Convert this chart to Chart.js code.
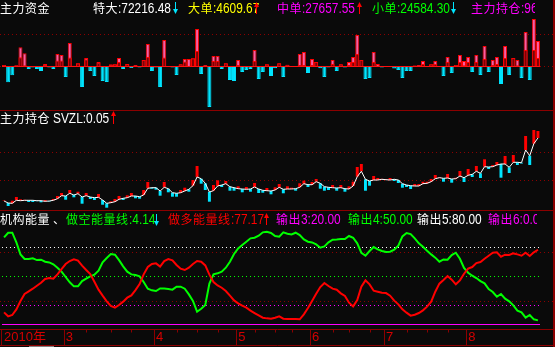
<!DOCTYPE html>
<html>
<head>
<meta charset="utf-8">
<script src="https://cdn.jsdelivr.net/npm/chart.js@4.4.0/dist/chart.umd.min.js"></script>
<style>
    html, body { margin: 0; padding: 0; background: #0a0a0a; }
    #wrap { position: relative; width: 555px; height: 347px; overflow: hidden; background: #0a0a0a; }
    canvas { position: absolute; left: 0; display: block; }
    .t { position: absolute; font-family: 'Noto Sans CJK SC', sans-serif; font-size: 12px; letter-spacing: 0.5px; line-height: 14px; white-space: nowrap; }
    .n { display: inline-block; font-family: 'Liberation Sans', sans-serif; font-size: 14px; letter-spacing: 0; transform: scaleX(0.85); transform-origin: left; }
    .arr { position: absolute; }
    .clip { overflow: hidden; }
    .bar { position: absolute; background: #8c0000; }
    .w { color: #ffffff; } .y { color: #ffff00; } .m { color: #ff00ff; }
    .g { color: #00ff00; } .r { color: #ff0000; } .c { color: #00e5ff; }
</style>
</head>
<body>
<div id="wrap">
    <canvas id="fundChart" width="555" height="110" style="top:0"></canvas>
    <canvas id="holdChart" width="555" height="99" style="top:111px"></canvas>
    <canvas id="energyChart" width="555" height="136" style="top:211px"></canvas>

    <div class="bar" style="left:0;top:110px;width:555px;height:1px"></div>
    <div class="bar" style="left:0;top:210px;width:555px;height:1px"></div>
    <div class="bar" style="left:553px;top:0;width:2px;height:347px"></div>
    <div style="position:absolute;left:29px;top:346px;width:25px;height:1px;background:#808080"></div>

    <!-- 主力资金 -->
    <div class="t w" style="left:0;top:1px">主力资金</div>
    <div class="t w" style="left:93px;top:1px">特大<span class="n">:72216.48</span></div>
    <svg class="arr" style="left:173px;top:2px" width="5" height="12"><path d="M2.5 0V11" stroke="#00e5ff"/><path d="M0 7L2.5 12L5 7Z" fill="#00e5ff"/></svg>
    <div class="t y" style="left:188px;top:1px">大单<span class="n">:4609.67</span></div>
    <svg class="arr" style="left:254px;top:2px" width="5" height="12"><path d="M2.5 1V12" stroke="#ff0000"/><path d="M0 5L2.5 0L5 5Z" fill="#ff0000"/></svg>
    <div class="t m" style="left:277px;top:1px">中单<span class="n">:27657.55</span></div>
    <svg class="arr" style="left:357px;top:2px" width="5" height="12"><path d="M2.5 1V12" stroke="#ff0000"/><path d="M0 5L2.5 0L5 5Z" fill="#ff0000"/></svg>
    <div class="t g" style="left:372px;top:1px">小单<span class="n">:24584.30</span></div>
    <svg class="arr" style="left:451px;top:2px" width="5" height="12"><path d="M2.5 0V11" stroke="#00e5ff"/><path d="M0 7L2.5 12L5 7Z" fill="#00e5ff"/></svg>
    <div class="t m clip" style="left:471px;top:1px;width:64px">主力持仓<span class="n">:96</span></div>

    <!-- 主力持仓 -->
    <div class="t w" style="left:0;top:111px">主力持仓</div>
    <div class="t w" style="left:53px;top:111px"><span class="n">SVZL:0.05</span></div>
    <svg class="arr" style="left:111px;top:111px" width="5" height="13"><path d="M2.5 1V13" stroke="#ff0000"/><path d="M0 5L2.5 0L5 5Z" fill="#ff0000"/></svg>

    <!-- 机构能量 -->
    <div class="t w" style="left:0;top:212px">机构能量</div>
    <div class="t w" style="left:53px;top:212px">、</div>
    <div class="t g" style="left:66px;top:212px">做空能量线<span class="n">:4.14</span></div>
    <svg class="arr" style="left:154px;top:214px" width="5" height="12"><path d="M2.5 0V11" stroke="#00e5ff"/><path d="M0 7L2.5 12L5 7Z" fill="#00e5ff"/></svg>
    <div class="t r" style="left:168px;top:212px">做多能量线<span class="n">:77.17</span></div>
    <svg class="arr" style="left:264px;top:213px" width="5" height="12"><path d="M2.5 1V12" stroke="#ff0000"/><path d="M0 5L2.5 0L5 5Z" fill="#ff0000"/></svg>
    <div class="t m" style="left:276px;top:212px">输出<span class="n">3:20.00</span></div>
    <div class="t g" style="left:348px;top:212px">输出<span class="n">4:50.00</span></div>
    <div class="t w" style="left:417px;top:212px">输出<span class="n">5:80.00</span></div>
    <div class="t m clip" style="left:488px;top:212px;width:49px">输出<span class="n">6:0.00</span></div>
</div>

<script>
// Trading days, grouped by month
const monthLabels = ['2010年', '3', '4', '5', '6', '7', '8'];
const monthDays = [15, 22, 20, 18, 18, 20, 18];
const weekTicks = [20, 26, 31, 42, 47, 52, 61, 66, 70, 80, 84, 89, 98, 103, 108];

// 主力资金: main fund flow (pink up / cyan down) and the dark red super-large part
const fundMain = [
    1.3, -16, -9, 1, 19, 13, -2.7, -1.3, -2.7, -4.7,
    2.3, -1.3, -2.7, 12.3, 11.3, -10.7, 23.3, 0.5, 3, -20.7,
    8.3, -4.7, -9.7, 4.3, -14.7, -15.7, 2, 2, 8.3, -2.7,
    2.3, -1.7, 1.3, -1.3, 6.3, 22.3, -4.7, -1.3, -20.7, 26.3,
    0, -1.3, -8.7, 2, 7.3, 7.3, 8, 37.3, -7.7, 1.3,
    -40.7, 10.3, 10.3, -2.7, 3, -13.7, -14.7, 6.3, -5.7, -3.7,
    -2.7, 16.3, -12.7, -5.7, 2, -9.7,
    -2, 3, -10.7, 1.5, 0, 0, 12.3, 14.3, -6.7, 7.3,
    4.3, -2, -10.7, -1.3, 6.3, -4.7, 2, -1.3, 4.3, 9.3,
    31.3, 6.3, -12.7, -11.7, 14.3, 2.3, -1.3, 0, 0, -2.3,
    -3.7, -11.7, -4.7, -4.7, 0.7, 1.3, 5.3, 0, 2, 5.3,
    0, -9.7, 9.3, -6.7, 1.3, 11.3, 5.3, 9.3, -5.7, 11.3,
    -8.7, 20.3, -5.7, 6.3, 9.3, -17.7, 20.3, -8.7, 8.3, 6.3,
    -11.7, 34.3, -13.7, 47.3, 25.3
];
const fundSuper = [
    1, 0, 0, 1, 9, 1, 0, 0, 0, 0,
    1.5, 0, 0, 5.7, 5.7, 0, 8.7, 0.5, 3, 0,
    7, 0, 0, 3.7, 0, 0, 1.3, 2, 4.3, 0,
    2.3, 0, 0.7, 0, 6.3, 9.3, 0, 0, 0, 8.7,
    0, 0, 0, 2, 4.7, 0.5, 8, 15.3, 0, 0.5,
    0, 5.3, 5.3, 0, 3, 0, 0, 1.3, 0, 0,
    0, 5.3, 0, 0, 2, 0,
    0, 3, 0, 1.5, 0, 0, 1.3, 1.3, 0, 1.3,
    4.3, 0, 0, 0, 2.3, 0, 2, 0, 1.3, 4.3,
    12.3, 6.3, 0, 0, 4.3, 0.7, 0, 0, 0, 0,
    0, 0, 0, 0, 0.7, 0.5, 2.3, 0, 2, 2.3,
    0, 0, 4.3, 0, 1.3, 4.3, 1, 4.3, 0, 4.3,
    0, 7.3, 0, 1.3, 2.3, 0, 8.3, 0, 8.3, 1,
    0, 16.3, 0, 16.3, 8.3
];
const fundGrid = [0, 32.3];

// 主力持仓: holding line and the end of each day's bar
const holdLine = [
    9.0, 7.0, 6.7, 9.7, 9.3, 9.7, 9.7, 9.7, 9.3, 9.3,
    8.7, 9.0, 9.7, 11.3, 14.3, 14.0, 16.7, 15.0, 16.3, 13.0,
    14.3, 13.0, 12.3, 12.7, 10.0, 6.7, 7.3, 8.3, 10.7, 11.7,
    12.3, 14.0, 14.0, 13.3, 15.0, 21.7, 22.3, 22.3, 19.0, 22.7,
    21.3, 17.3, 16.7, 17.3, 19.0, 20.7, 24.3, 33.0, 31.3, 26.7,
    18.0, 19.3, 24.0, 25.0, 26.3, 23.3, 22.3, 21.3, 21.0, 20.7,
    21.0, 23.0, 21.0, 19.7, 19.3, 19.0,
    20.0, 22.7, 20.7, 21.0, 21.0, 21.3, 22.7, 26.3, 25.3, 25.3,
    28.3, 26.7, 23.3, 22.7, 22.3, 22.0, 22.3, 21.3, 21.0, 24.0,
    33.3, 38.7, 30.7, 29.0, 30.0, 30.0, 30.7, 30.3,
    30.0, 30.7, 30.0, 26.3, 25.0, 24.3, 24.0, 24.0, 26.3, 26.7,
    28.3, 31.3, 32.3, 31.7, 32.0, 31.0, 31.3, 34.0, 32.3, 34.7,
    35.7, 38.7, 36.7, 43.3, 43.0, 43.3, 45.0, 46.0, 46.0, 42.7,
    47.7, 47.7, 47.3, 60.0, 54.3, 66.3, 72.0
];
const holdEnd = [
    9.5, 4.0, 9.3, 13.0, 10.7, 10.2, 8.0, 8.0, 8.8, 7.7,
    10.0, 8.5, 11.0, 14.0, 17.0, 10.3, 20.0, 12.7, 18.3, 6.3,
    17.0, 11.0, 10.0, 16.0, 5.3, 2.3, 8.7, 11.0, 14.0, 10.0,
    14.7, 17.0, 11.7, 11.3, 20.0, 28.0, 21.3, 20.3, 14.3, 28.0,
    17.7, 13.3, 13.3, 20.0, 22.3, 18.3, 30.0, 44.0, 26.3, 20.0,
    8.3, 25.0, 29.7, 23.0, 29.0, 19.3, 19.3, 23.7, 17.7, 23.0,
    18.3, 27.0, 17.0, 17.3, 22.0, 15.7,
    22.7, 26.0, 16.7, 23.7, 22.3, 19.3, 26.7, 29.3, 23.0, 28.0,
    31.0, 21.3, 19.3, 20.0, 25.0, 19.3, 25.0, 18.3, 23.7, 28.3,
    43.0, 46.0, 19.3, 24.3, 34.0, 32.0, 31.2, 31.0,
    32.0, 29.0, 27.0, 22.3, 23.0, 21.0, 26.0, 26.0, 28.3, 28.3,
    31.0, 35.0, 32.8, 28.3, 36.0, 27.3, 32.3, 39.0, 28.0, 41.0,
    33.0, 44.0, 32.0, 50.7, 41.0, 45.0, 48.0, 32.3, 54.0, 37.0,
    55.0, 45.0, 46.5, 74.0, 45.0, 80.0, 79.0
];
const holdGrid = [29.7, 57.7];

// 机构能量: 做空能量线 (green) and 做多能量线 (red)
const shortEnergy = [
    90.0, 94.8, 94.8, 84.8, 72.4, 67.6, 67.6, 68.3, 66.5, 66.9,
    64.8, 64.1, 62.1, 58.6, 54.5, 49.0, 43.5, 39.3, 39.3, 44.8,
    47.2, 49.7, 51.4, 55.5, 64.1, 68.6, 72.8, 72.1, 66.5, 60.0,
    54.5, 51.7, 51.0, 49.7, 43.8, 36.9, 35.2, 34.5, 37.2, 37.2,
    36.6, 35.9, 39.0, 39.0, 36.9, 31.0, 24.2, 13.1, 16.2, 20.0,
    42.1, 51.7, 52.8, 54.5, 58.6, 64.8, 72.8, 78.6, 82.1, 85.5,
    89.0, 89.6, 91.7, 95.2, 95.8, 94.5, 91.4, 90.7, 95.2, 93.8,
    93.1, 94.8, 92.4, 87.9, 85.5, 84.8, 82.7, 79.3, 80.7, 84.8,
    87.6, 87.9, 88.3, 88.3, 91.4, 89.6, 83.8, 74.1, 71.0, 75.9,
    80.0, 77.6, 75.9, 74.8, 75.2, 77.2, 81.4, 91.0, 94.5, 93.4,
    89.0, 83.8, 80.3, 76.2, 72.4, 69.0, 64.8, 67.2, 66.9, 71.7,
    74.1, 67.9, 58.3, 53.4, 50.3, 47.9, 44.8, 42.4, 36.6, 33.5,
    28.6, 31.4, 26.6, 23.8, 19.7, 14.2, 12.4, 6.9, 9.7, 5.2,
    4.14
];
const longEnergy = [
    12.4, 8.3, 9.7, 15.5, 24.2, 31.4, 34.1, 36.9, 40.0, 43.1,
    46.9, 47.9, 47.2, 51.7, 57.2, 62.4, 65.5, 67.2, 65.9, 60.7,
    56.2, 52.1, 44.1, 35.9, 29.7, 23.8, 19.0, 17.3, 20.0, 23.5,
    27.6, 30.0, 35.5, 41.7, 51.7, 59.3, 62.4, 63.1, 59.7, 65.5,
    67.6, 66.2, 61.4, 57.6, 56.2, 58.6, 62.4, 65.5, 64.8, 61.0,
    51.4, 43.8, 40.3, 37.9, 34.5, 29.7, 24.8, 21.7, 19.3, 17.3,
    14.2, 11.7, 9.3, 6.9, 6.2, 5.9, 6.9, 8.3, 5.9, 5.5,
    5.5, 5.5, 5.2, 10.4, 16.9, 24.2, 31.7, 38.6, 42.8, 39.7,
    36.9, 35.9, 32.1, 29.3, 22.4, 18.6, 25.2, 39.0, 45.5, 41.4,
    34.8, 33.8, 32.8, 32.4, 29.7, 24.5, 20.7, 15.5, 12.1, 9.0,
    10.0, 11.7, 14.5, 18.3, 23.5, 33.8, 42.1, 45.9, 50.0, 46.2,
    41.4, 45.5, 52.4, 57.6, 59.3, 63.4, 64.5, 67.9, 71.0, 74.1,
    74.5, 70.0, 72.1, 71.7, 73.4, 72.4, 71.0, 74.1, 70.7, 74.5,
    77.17
];
// 输出3..输出6 levels
const outputLevels = [20, 50, 80, 0];
const energyGrid = [23.8, 74.5];

// Build the day categories and the month tick labels
const days = [];
const tickText = [];
monthLabels.forEach(function(m, k) {
    for (let d = 0; d < monthDays[k]; d++) {
        days.push(m + '-' + (d + 1));
        tickText.push(d === 0 ? m : '');
    }
});

const DARK = '#8c0000';

// Horizontal level lines, drawn through the y scale
function drawLevels(chart, lines) {
    const ctx = chart.ctx;
    const y = chart.scales.y;
    const area = chart.chartArea;
    lines.forEach(function(l) {
        const py = Math.round(y.getPixelForValue(l.value)) + 0.5;
        ctx.save();
        ctx.strokeStyle = l.color;
        ctx.lineWidth = 1;
        ctx.setLineDash(l.dash || []);
        ctx.beginPath();
        ctx.moveTo(l.full ? 0 : area.left, py);
        ctx.lineTo(l.full ? chart.width - 2 : area.right, py);
        ctx.stroke();
        ctx.restore();
    });
}
const levelPlugin = {
    id: 'levels',
    beforeDatasetsDraw: function(chart, args, opts) { drawLevels(chart, opts.under || []); },
    afterDatasetsDraw: function(chart, args, opts) { drawLevels(chart, opts.over || []); }
};

// Month dividers and week ticks in the date band
const bandPlugin = {
    id: 'band',
    afterDraw: function(chart) {
        const ctx = chart.ctx;
        const x = chart.scales.x;
        const half = (x.getPixelForValue(1) - x.getPixelForValue(0)) / 2;
        const top = Math.round(x.top) + 0.5;
        const bottom = top + 16;
        ctx.save();
        ctx.strokeStyle = DARK;
        ctx.lineWidth = 1;
        ctx.beginPath();
        ctx.moveTo(0, top); ctx.lineTo(chart.width, top);
        ctx.moveTo(0, bottom); ctx.lineTo(chart.width, bottom);
        ctx.moveTo(1.5, top); ctx.lineTo(1.5, bottom);
        tickText.forEach(function(t, i) {
            if (t !== '' && i > 0) {
                const px = Math.round(x.getPixelForValue(i) - half) + 0.5;
                ctx.moveTo(px, top); ctx.lineTo(px, bottom);
            }
        });
        weekTicks.forEach(function(i) {
            const px = Math.round(x.getPixelForValue(i)) + 0.5;
            ctx.moveTo(px, top); ctx.lineTo(px, top + 3);
        });
        ctx.stroke();
        ctx.restore();
    }
};

const baseOptions = {
    responsive: false,
    animation: false,
    devicePixelRatio: 1,
    events: []
};

// Panel 1: 主力资金
new Chart(document.getElementById('fundChart'), {
    type: 'bar',
    data: {
        labels: days,
        datasets: [
            {
                data: fundSuper,
                backgroundColor: '#800000',
                borderColor: '#ff0000',
                borderWidth: 1,
                grouped: false,
                barPercentage: 0.98,
                categoryPercentage: 1
            },
            {
                data: fundMain,
                backgroundColor: function(c) { return c.raw >= 0 ? '#ff5aa0' : '#00e5ff'; },
                borderColor: function(c) { return c.raw >= 0 ? '#ff0000' : '#00e5ff'; },
                borderWidth: 1,
                grouped: false,
                barPercentage: 0.98,
                categoryPercentage: 1
            }
        ]
    },
    options: Object.assign({}, baseOptions, {
        layout: { padding: { left: 2, right: 15, top: 16, bottom: 0 } },
        scales: {
            x: { display: false },
            y: { display: false, min: -43.7, max: 50.3 }
        },
        plugins: {
            legend: { display: false },
            tooltip: { enabled: false },
            levels: {
                under: fundGrid.map(function(v) { return { value: v, color: DARK, dash: [1, 3], full: true }; }),
                over: [{ value: 0, color: '#ff1010' }]
            }
        }
    }),
    plugins: [levelPlugin]
});

// Panel 2: 主力持仓
new Chart(document.getElementById('holdChart'), {
    type: 'bar',
    data: {
        labels: days,
        datasets: [
            {
                type: 'line',
                data: holdLine,
                borderColor: '#ffffff',
                borderWidth: 1,
                pointRadius: 0,
                order: 0
            },
            {
                data: holdLine.map(function(v, i) { return [v, holdEnd[i]]; }),
                backgroundColor: function(c) { return holdEnd[c.dataIndex] >= holdLine[c.dataIndex] ? '#ff0000' : '#00e5ff'; },
                borderWidth: 0,
                barPercentage: 0.72,
                categoryPercentage: 1,
                order: 1
            }
        ]
    },
    options: Object.assign({}, baseOptions, {
        layout: { padding: { left: 2, right: 15, top: 0, bottom: 0 } },
        scales: {
            x: { display: false },
            y: { display: false, min: 0, max: 99 }
        },
        plugins: {
            legend: { display: false },
            tooltip: { enabled: false },
            levels: {
                under: holdGrid.map(function(v) { return { value: v, color: DARK, dash: [1, 3], full: true }; })
            }
        }
    }),
    plugins: [levelPlugin]
});

// Panel 3: 机构能量 with the date band
const levelColors = ['#ff00ff', '#00ff00', '#ffffff', '#ff00ff'];
new Chart(document.getElementById('energyChart'), {
    type: 'line',
    data: {
        labels: days,
        datasets: [
            { data: longEnergy, borderColor: '#ff0000', borderWidth: 2, pointRadius: 0 },
            { data: shortEnergy, borderColor: '#00ff00', borderWidth: 2, pointRadius: 0 }
        ]
    },
    options: Object.assign({}, baseOptions, {
        layout: { padding: { left: 2, right: 15, top: 5, bottom: 2 } },
        scales: {
            x: {
                offset: true,
                grid: { display: false, drawTicks: false },
                border: { display: false },
                ticks: {
                    autoSkip: false,
                    maxRotation: 0,
                    minRotation: 0,
                    align: 'start',
                    padding: 1,
                    color: '#d40000',
                    font: { family: "'Liberation Sans', 'Noto Sans CJK SC', sans-serif", size: 13 },
                    callback: function(v, i) { return tickText[i]; }
                },
                afterFit: function(scale) { scale.height = 16; }
            },
            y: { display: false, min: -4.8, max: 112.1 }
        },
        plugins: {
            legend: { display: false },
            tooltip: { enabled: false },
            levels: {
                under: energyGrid.map(function(v) { return { value: v, color: DARK, dash: [1, 3], full: true }; })
                    .concat(outputLevels.map(function(v, k) {
                        return { value: v, color: levelColors[k], dash: v === 0 ? [] : [1, 3] };
                    }))
            }
        }
    }),
    plugins: [levelPlugin, bandPlugin]
});
</script>
</body>
</html>
